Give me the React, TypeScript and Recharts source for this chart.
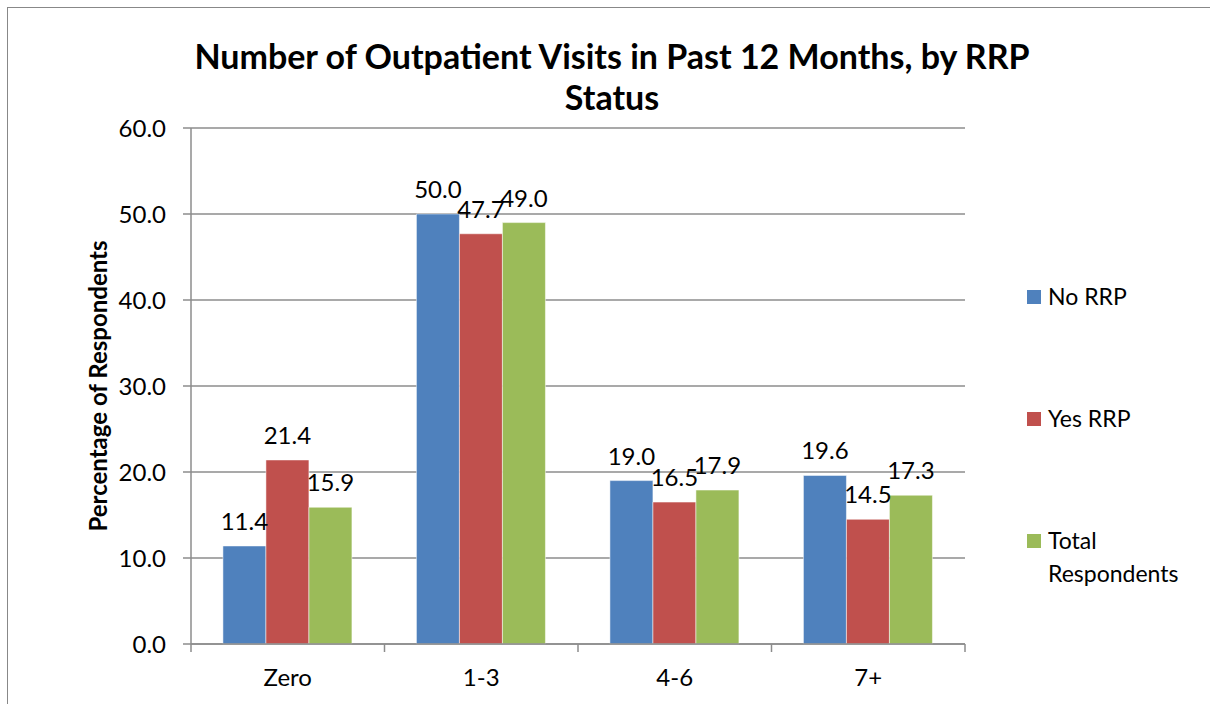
import React from 'react';
import {
  BarChart,
  Bar,
  XAxis,
  YAxis,
  CartesianGrid,
  Legend,
  LabelList,
} from 'recharts';

const CATEGORIES = ['Zero', '1-3', '4-6', '7+'];
const NO_RRP = [11.4, 50.0, 19.0, 19.6];
const YES_RRP = [21.4, 47.7, 16.5, 14.5];
const TOTAL = [15.9, 49.0, 17.9, 17.3];
const SERIES_NAMES = ['No RRP', 'Yes RRP', 'Total Respondents'];
const Y_TICKS = [0, 10, 20, 30, 40, 50, 60];

const COLORS = {
  no: '#4F81BD',
  yes: '#C0504D',
  total: '#9BBB59',
};

const FONT = 'Lato, "Open Sans", sans-serif';
const GRID = '#8c8c8c';
const X_TICK_MARGIN = 25;

const data = CATEGORIES.map((name, i) => ({
  name,
  no: NO_RRP[i],
  yes: YES_RRP[i],
  total: TOTAL[i],
}));

// category label plus tick marks at the band edges (Excel style)
const CategoryTick = (props: any) => {
  const { x, y, payload, index } = props;
  const half = payload.offset || 0;
  const axisY = y - X_TICK_MARGIN;
  const last = index === CATEGORIES.length - 1;
  return (
    <g>
      <line x1={x - half} x2={x - half} y1={axisY} y2={axisY + 8} stroke={GRID} strokeWidth={1.5} />
      {last && (
        <line x1={x + half} x2={x + half} y1={axisY} y2={axisY + 8} stroke={GRID} strokeWidth={1.5} />
      )}
      <text x={x} y={y} dy="0.71em" textAnchor="middle" fontFamily={FONT} fontSize={24} fill="#000">
        {payload.value}
      </text>
    </g>
  );
};

const LegendContent = (props: any) => {
  const items = [...(props.payload || [])].sort(
    (a: any, b: any) => SERIES_NAMES.indexOf(a.value) - SERIES_NAMES.indexOf(b.value)
  );
  return (
    <div style={{ fontFamily: FONT, fontSize: 23, color: '#000' }}>
      {items.map((item: any) => (
        <div key={item.value} style={{ display: 'flex', height: 122, alignItems: 'flex-start' }}>
          <div
            style={{
              width: 14,
              height: 14,
              background: item.color,
              marginTop: 10,
              marginRight: 7,
              flexShrink: 0,
            }}
          />
          <div style={{ lineHeight: '33px', width: 150 }}>{item.value}</div>
        </div>
      ))}
    </div>
  );
};

const YLabel = (props: any) => {
  const vb = props.viewBox;
  const cy = vb.y + vb.height / 2;
  return (
    <text
      x={97}
      y={cy}
      transform={`rotate(-90, 97, ${cy})`}
      textAnchor="middle"
      dominantBaseline="central"
      fontFamily={FONT}
      fontWeight="bold"
      fontSize={24}
      fill="#000"
    >
      Percentage of Respondents
    </text>
  );
};

const labelStyle = { fontFamily: FONT, fontSize: 24, fill: '#000' };
const fmt = (v: any) => Number(v).toFixed(1);

export default function App() {
  return (
    <div
      style={{
        position: 'absolute',
        left: 0,
        top: 0,
        width: 1210,
        height: 704,
        background: '#fff',
        overflow: 'hidden',
      }}
    >
      <div
        style={{
          position: 'absolute',
          left: 7,
          top: 7,
          width: 1210,
          height: 704,
          borderTop: '1.5px solid #888',
          borderLeft: '1.5px solid #888',
        }}
      />
      <div
        style={{
          position: 'absolute',
          left: 0,
          top: 35,
          width: 1224,
          textAlign: 'center',
          fontFamily: FONT,
          fontWeight: 'bold',
          fontSize: 34,
          lineHeight: '41px',
          color: '#000',
        }}
      >
        Number of Outpatient Visits in Past 12 Months, by RRP
        <br />
        Status
      </div>
      <BarChart
        width={1210}
        height={704}
        data={data}
        margin={{ top: 128, right: 65, bottom: 30, left: 100 }}
        barCategoryGap="16.5%"
        barGap={0}
        style={{ position: 'absolute', left: 0, top: 0 }}
      >
        <CartesianGrid vertical={false} stroke={GRID} strokeWidth={1.5} />
        <XAxis
          dataKey="name"
          height={30}
          axisLine={{ stroke: GRID, strokeWidth: 1.5 }}
          tickLine={false}
          tickSize={0}
          tickMargin={X_TICK_MARGIN}
          tick={<CategoryTick />}
          interval={0}
        />
        <YAxis
          width={91}
          domain={[0, 60]}
          ticks={Y_TICKS}
          interval={0}
          tickFormatter={(v: number) => v.toFixed(1)}
          axisLine={{ stroke: GRID, strokeWidth: 1.5 }}
          tickLine={{ stroke: GRID, strokeWidth: 1.5 }}
          tickSize={8}
          tickMargin={17}
          tick={{ fontFamily: FONT, fontSize: 24, fill: '#000' }}
          label={<YLabel />}
        />
        <Legend
          layout="vertical"
          align="right"
          verticalAlign="top"
          content={<LegendContent />}
          wrapperStyle={{ position: 'absolute', left: 1027, top: 280, width: 180 }}
        />
        <Bar dataKey="no" name="No RRP" fill={COLORS.no} stroke="#fff" strokeWidth={0.5} isAnimationActive={false}>
          <LabelList dataKey="no" position="top" offset={16} formatter={fmt} style={labelStyle} />
        </Bar>
        <Bar dataKey="yes" name="Yes RRP" fill={COLORS.yes} stroke="#fff" strokeWidth={0.5} isAnimationActive={false}>
          <LabelList dataKey="yes" position="top" offset={16} formatter={fmt} style={labelStyle} />
        </Bar>
        <Bar dataKey="total" name="Total Respondents" fill={COLORS.total} stroke="#fff" strokeWidth={0.5} isAnimationActive={false}>
          <LabelList dataKey="total" position="top" offset={16} formatter={fmt} style={labelStyle} />
        </Bar>
      </BarChart>
    </div>
  );
}
